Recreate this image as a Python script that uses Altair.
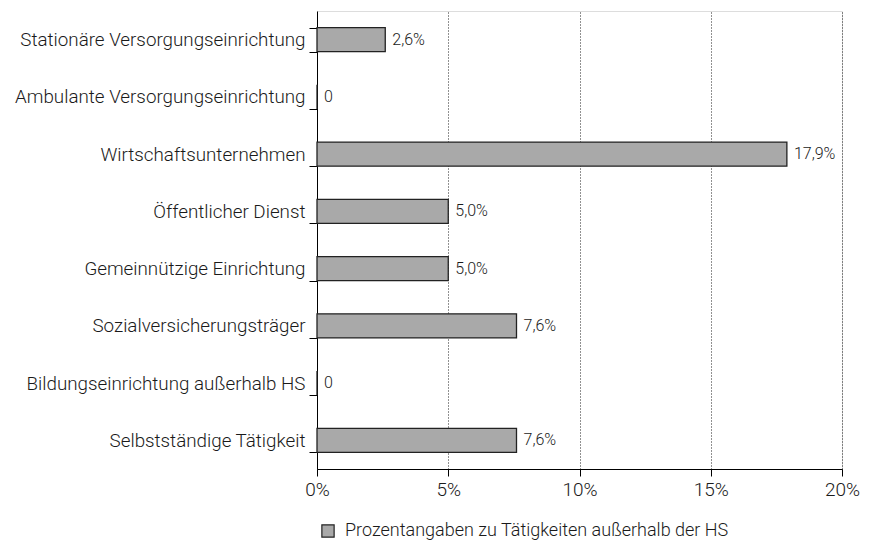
import altair as alt
import pandas as pd

categories = [
    "Stationäre Versorgungseinrichtung",
    "Ambulante Versorgungseinrichtung",
    "Wirtschaftsunternehmen",
    "Öffentlicher Dienst",
    "Gemeinnützige Einrichtung",
    "Sozialversicherungsträger",
    "Bildungseinrichtung außerhalb HS",
    "Selbstständige Tätigkeit",
]
values = [2.6, 0.0, 17.9, 5.0, 5.0, 7.6, 0.0, 7.6]
series_name = "Prozentangaben zu Tätigkeiten außerhalb der HS"
x_ticks = [0, 5, 10, 15, 20]

df = pd.DataFrame({"cat": categories, "v": values, "series": series_name})

FONT = "Roboto"
TXT = "#1a1a1a"
W = 300

y_enc = alt.Y(
    "cat:N",
    sort=categories,
    title=None,
    scale=alt.Scale(paddingInner=0.58, paddingOuter=0.29),
    axis=alt.Axis(
        tickBand="extent",
        tickSize=8,
        tickColor="#000000",
        domainColor="#000000",
        labelFontSize=18.8,
        labelFontWeight=W,
        labelColor=TXT,
        labelPadding=4,
        labelFont=FONT,
        labelLimit=0,
        grid=False,
    ),
)

x_enc = alt.X(
    "v:Q",
    title=None,
    scale=alt.Scale(domain=[0, 20], nice=False),
    axis=alt.Axis(
        values=x_ticks,
        labelExpr="datum.value + '%'",
        tickSize=7,
        tickColor="#000000",
        domainColor="#000000",
        labelFontSize=19,
        labelFontWeight=W,
        labelColor=TXT,
        labelPadding=4,
        labelFont=FONT,
        labelFlush=False,
        labelOverlap=False,
        grid=True,
        gridDash=[1, 2],
        gridColor="#222222",
        gridWidth=1,
    ),
)

bars = alt.Chart(df).mark_bar(stroke="#222222", strokeWidth=1.3).encode(
    x=x_enc,
    y=y_enc,
    color=alt.Color(
        "series:N",
        scale=alt.Scale(range=["#a9a9a9"]),
        legend=alt.Legend(
            title=None,
            orient="none",
            legendX=2,
            legendY=511,
            symbolType="square",
            symbolSize=150,
            symbolStrokeColor="#222222",
            symbolStrokeWidth=1.2,
            labelFontSize=18,
            labelFontWeight=W,
            labelFont=FONT,
            labelColor=TXT,
            labelOffset=8,
            labelLimit=0,
        ),
    ),
)

labels = alt.Chart(df).transform_calculate(
    lbl="datum.v == 0 ? '0' : replace(format(datum.v, '.1f'), '.', ',') + '%'"
).mark_text(
    align="left", baseline="middle", dx=7, fontSize=16, fontWeight=W, font=FONT, color=TXT
).encode(
    x="v:Q",
    y=alt.Y("cat:N", sort=categories),
    text="lbl:N",
)

chart = (
    alt.layer(bars, labels)
    .properties(
        width=525,
        height=458,
        autosize=alt.AutoSizeParams(type="none"),
        padding={"left": 309, "top": 3, "right": 19, "bottom": 72},
    )
    .configure_view(stroke=None)
    .configure(font=FONT)
)

chart.save("out.html", embed_options={"renderer": "svg", "actions": False})
